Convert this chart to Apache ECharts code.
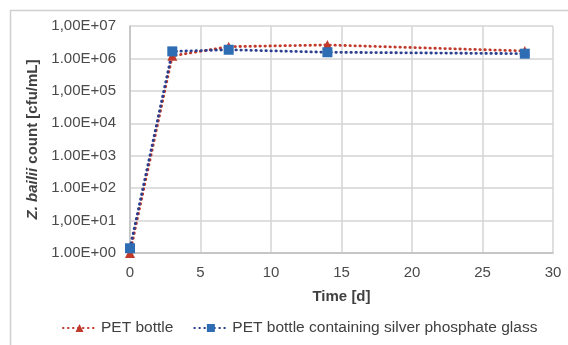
<!DOCTYPE html>
<html>
<head>
<meta charset="utf-8">
<script src="https://cdn.jsdelivr.net/npm/echarts@6/dist/echarts.min.js"></script>
<style>
html,body{margin:0;padding:0;background:#fff;}
#c{width:568px;height:345px;}
</style>
</head>
<body>
<div id="c"></div>
<script>
var days = [0, 3, 7, 14, 28];
var petBottle = [1.0, 1.2e6, 2.3e6, 2.6e6, 1.7e6];
var petSilver = [1.4, 1.65e6, 1.85e6, 1.55e6, 1.4e6];
var seriesNames = ["PET bottle", "PET bottle containing silver phosphate glass"];
var yTickLabels = ["1.00E+00","1,00E+01","1.00E+02","1.00E+03","1.00E+04","1,00E+05","1.00E+06","1,00E+07"];
var xTicks = [0, 5, 10, 15, 20, 25, 30];

function pairs(xs, ys){ return xs.map(function(x,i){ return [x, ys[i]]; }); }

var chart = echarts.init(document.getElementById('c'), null, {renderer:'canvas'});
var font = 'Liberation Sans, Arial, sans-serif';
chart.setOption({
  animation: false,
  backgroundColor: '#fff',
  textStyle: {fontFamily: font},
  graphic: [{
    type: 'rect', silent: true, z: -1,
    shape: {x: 10.5, y: 10.5, width: 600, height: 400},
    style: {fill: 'none', stroke: '#d0d0d0', lineWidth: 1.5}
  }],
  grid: {left: 130, top: 26, right: 15, bottom: 92, containLabel: false},
  legend: {
    bottom: 4, left: 57,
    itemWidth: 33, itemHeight: 10, itemGap: 20,
    textStyle: {fontSize: 15.5, color: '#404040', fontFamily: font},
    data: seriesNames
  },
  xAxis: {
    type: 'value', min: xTicks[0], max: xTicks[xTicks.length-1], interval: 5,
    name: 'Time [d]', nameLocation: 'middle', nameGap: 36,
    nameTextStyle: {fontSize: 15, fontWeight: 'bold', color: '#404040', fontFamily: font},
    axisLine: {show: true, lineStyle: {color: '#bfbfbf', width: 1.5}},
    axisTick: {show: false},
    axisLabel: {fontSize: 15, color: '#4a4a4a', margin: 12, fontFamily: font},
    splitLine: {show: true, lineStyle: {color: '#d4d4d4', width: 1.5}}
  },
  yAxis: {
    type: 'log', logBase: 10, min: 1, max: 1e7,
    name: '{i|Z. bailii} count [cfu/mL]', nameLocation: 'middle', nameGap: 85, nameRotate: 90,
    nameTextStyle: {fontSize: 15, fontWeight: 'bold', color: '#404040', fontFamily: font,
      rich: {i: {fontSize: 15, fontWeight: 'bold', fontStyle: 'italic', color: '#404040', fontFamily: font}}},
    axisLine: {show: true, lineStyle: {color: '#bfbfbf', width: 1.5}},
    axisTick: {show: false},
    axisLabel: {fontSize: 15, color: '#4a4a4a', margin: 14, fontFamily: font,
      formatter: function(v){ var k = Math.round(Math.log10(v)); return yTickLabels[k] || ''; }},
    splitLine: {show: true, lineStyle: {color: '#d4d4d4', width: 1.5}}
  },
  series: [{
    name: seriesNames[0], type: 'line', data: pairs(days, petBottle),
    symbol: 'triangle', symbolSize: 10, clip: false,
    itemStyle: {color: '#c0392b'},
    lineStyle: {color: '#c0392b', width: 2.8, type: [0.5, 4.5], cap: 'round'}
  },{
    name: seriesNames[1], type: 'line', data: pairs(days, petSilver),
    symbol: 'rect', symbolSize: 10, clip: false,
    itemStyle: {color: '#2e6db4'},
    lineStyle: {color: '#2c3f8f', width: 2.8, type: [0.5, 4.5], cap: 'round'}
  }]
});
</script>
</body>
</html>
